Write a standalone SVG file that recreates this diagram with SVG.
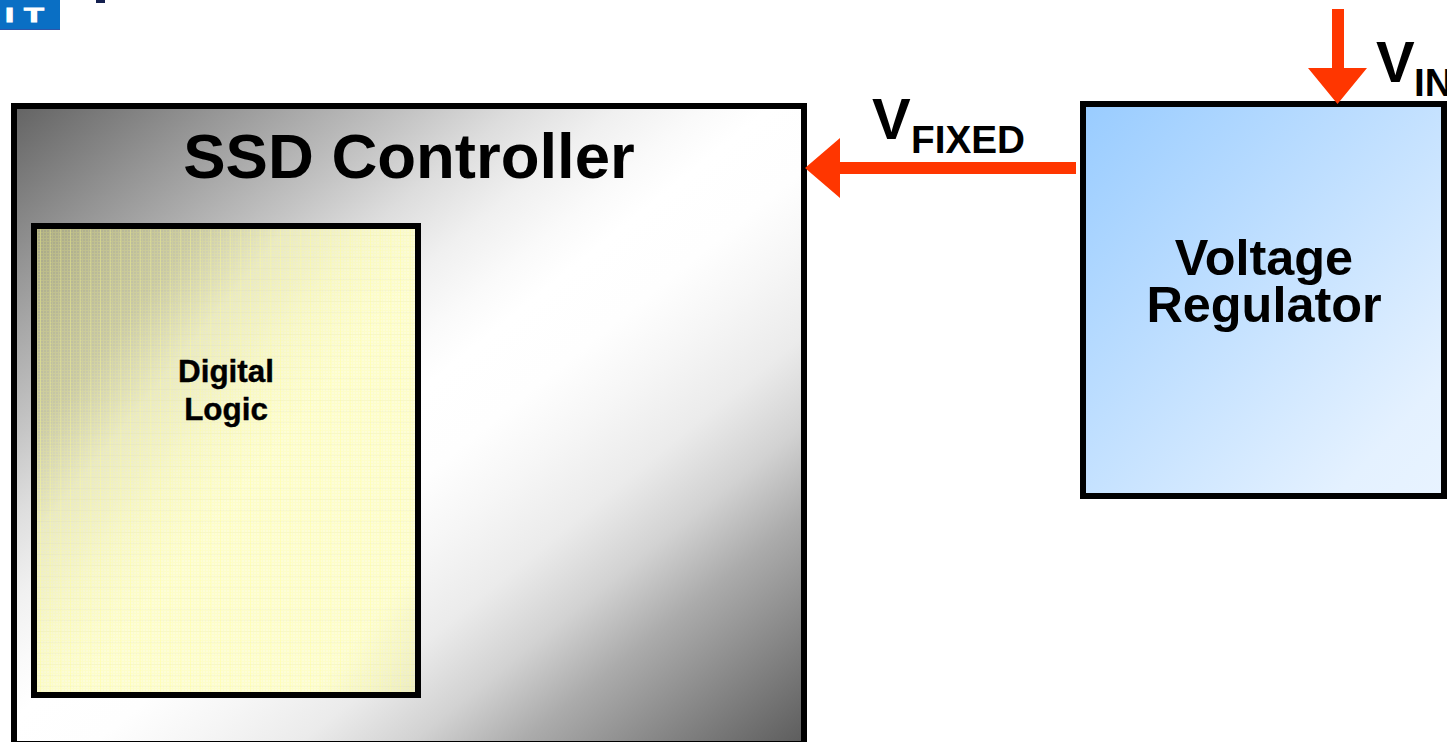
<svg xmlns="http://www.w3.org/2000/svg" width="1447" height="742" viewBox="0 0 1447 742">
<style>
text{font-family:"Liberation Sans",Arial,sans-serif;font-weight:bold;fill:#000}
.box{stroke:#000;stroke-width:6}
.arrow{fill:#ff3600}
</style>
<defs>
<linearGradient id="gSsd" x1="0" y1="0" x2="1" y2="1">
<stop offset="0" stop-color="#636363"/><stop offset="0.13" stop-color="#959595"/><stop offset="0.256" stop-color="#c4c4c4"/><stop offset="0.32" stop-color="#ddd"/><stop offset="0.385" stop-color="#f0f0f0"/><stop offset="0.44" stop-color="#fafafa"/><stop offset="0.48" stop-color="#fff"/><stop offset="0.55" stop-color="#fefefe"/><stop offset="0.61" stop-color="#f6f6f6"/><stop offset="0.68" stop-color="#ebebeb"/><stop offset="0.75" stop-color="#d2d2d2"/><stop offset="0.82" stop-color="#ababab"/><stop offset="1" stop-color="#5c5c5c"/>
</linearGradient>
<linearGradient id="gLogic" x1="0" y1="0" x2="1" y2="1">
<stop offset="0" stop-color="#a6a684"/><stop offset="0.22" stop-color="#c8c8a8"/><stop offset="0.33" stop-color="#e8e8c8"/><stop offset="0.45" stop-color="#f7f7d2"/><stop offset="0.55" stop-color="#fdfdd8"/><stop offset="0.86" stop-color="#fdfdd8"/><stop offset="1" stop-color="#eaeac8"/>
</linearGradient>
<linearGradient id="gReg" x1="0" y1="0" x2="1" y2="1">
<stop offset="0" stop-color="#99ccff"/><stop offset="0.85" stop-color="#e4f1ff"/><stop offset="1" stop-color="#e8f3ff"/>
</linearGradient>
<pattern id="pFine" width="3" height="3" patternUnits="userSpaceOnUse" x="37" y="229">
<path d="M0 0H3V1H0ZM0 1H1V3H0Z" fill="#ffff80" fill-opacity="0.16" shape-rendering="crispEdges"/>
</pattern>
<pattern id="pGrid" width="10" height="11" patternUnits="userSpaceOnUse" x="37" y="229">
<path d="M3 0H4V11H3Z" fill="#ffff90" fill-opacity="0.3" shape-rendering="crispEdges"/>
<path d="M0 6H10V7H0Z" fill="#a0a080" fill-opacity="0.06" shape-rendering="crispEdges"/>
</pattern>
</defs>
<g id="logo">
<rect x="0" y="0" width="60" height="30" fill="#0a6fc4"/>
<rect x="0" y="29" width="60" height="1" fill="#2f55a8"/>
<text transform="translate(5 22) scale(1.55 1)" x="0" y="0" font-size="21" style="fill:#fff;stroke:#fff;stroke-width:1" letter-spacing="6.500">IT</text>
<rect x="96" y="0" width="9" height="3" fill="#14204f"/>
</g>
<g id="ssd-controller">
<rect class="box" x="14" y="106" width="790" height="638" fill="url(#gSsd)"/>
<text x="409" y="178" font-size="63.500" text-anchor="middle">SSD Controller</text>
</g>
<g id="digital-logic">
<rect x="34" y="226" width="384" height="469" fill="url(#gLogic)"/>
<rect x="37" y="229" width="378" height="463" fill="url(#pFine)"/>
<rect x="37" y="229" width="378" height="463" fill="url(#pGrid)"/>
<rect class="box" x="34" y="226" width="384" height="469" fill="none"/>
<text x="226" y="382" font-size="31.400" text-anchor="middle" stroke="#000" stroke-width="0.4">Digital</text>
<text x="226" y="419.500" font-size="31.400" text-anchor="middle" stroke="#000" stroke-width="0.4">Logic</text>
</g>
<g id="voltage-regulator">
<rect class="box" x="1083" y="104" width="361" height="392" fill="url(#gReg)"/>
<text x="1264" y="275" font-size="50.400" text-anchor="middle">Voltage</text>
<text x="1264" y="322" font-size="50.400" text-anchor="middle">Regulator</text>
</g>
<g id="connectors">
<path class="arrow" d="M1332 9H1344V68H1367L1337.500 104L1308 68H1332Z"/>
<path class="arrow" d="M1076 162V174H840V198L805 168L840 138V162Z"/>
</g>
<g id="labels">
<text x="872" y="139" font-size="58">V</text>
<text x="911" y="153" font-size="38.700">FIXED</text>
<text x="1376" y="82" font-size="58">V</text>
<text x="1414" y="96" font-size="38.700">IN</text>
</g>
</svg>
